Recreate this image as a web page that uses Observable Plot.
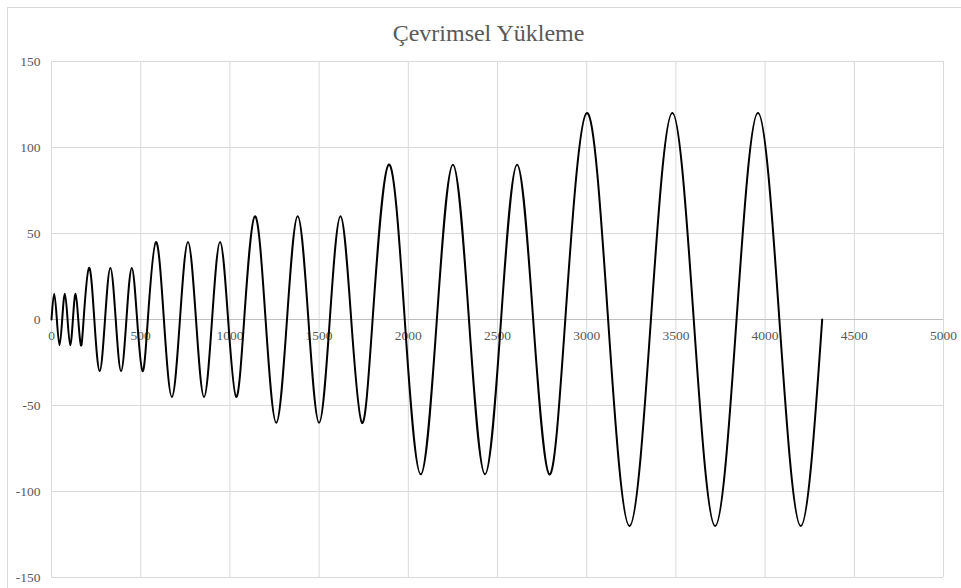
<!DOCTYPE html>
<html>
<head>
<meta charset="utf-8">
<script src="https://cdn.jsdelivr.net/npm/d3@7"></script>
<script src="https://cdn.jsdelivr.net/npm/@observablehq/plot@0.6"></script>
<style>
  html, body { margin: 0; padding: 0; background: #fff; overflow: hidden; }
  #wrap { position: relative; width: 961px; height: 588px; }
  #border { position: absolute; left: 7px; top: 7px; width: 1000px; height: 1000px; border: 1px solid #d9d9d9; box-sizing: border-box; }
  #chart { position: absolute; left: 0; top: 0; }
</style>
</head>
<body>
<div id="wrap"><div id="border"></div><div id="chart"></div></div>
<script>
const title = "Çevrimsel Yükleme";
// time (x) and load (y) at zero crossings and peaks
const time = [0,
  15, 30, 45, 60, 75, 90, 105, 120, 135, 150, 165, 180,
  210, 240, 270, 300, 330, 360, 390, 420, 450, 480, 510, 540,
  585, 630, 675, 720, 765, 810, 855, 900, 945, 990, 1035, 1080,
  1140, 1200, 1260, 1320, 1380, 1440, 1500, 1560, 1620, 1680, 1740, 1800,
  1890, 1980, 2070, 2160, 2250, 2340, 2430, 2520, 2610, 2700, 2790, 2880,
  3000, 3120, 3240, 3360, 3480, 3600, 3720, 3840, 3960, 4080, 4200, 4320];
const load = [0,
  15, 0, -15, 0, 15, 0, -15, 0, 15, 0, -15, 0,
  30, 0, -30, 0, 30, 0, -30, 0, 30, 0, -30, 0,
  45, 0, -45, 0, 45, 0, -45, 0, 45, 0, -45, 0,
  60, 0, -60, 0, 60, 0, -60, 0, 60, 0, -60, 0,
  90, 0, -90, 0, 90, 0, -90, 0, 90, 0, -90, 0,
  120, 0, -120, 0, 120, 0, -120, 0, 120, 0, -120, 0];
const xTicks = [0, 500, 1000, 1500, 2000, 2500, 3000, 3500, 4000, 4500, 5000];
const yTicks = [-150, -100, -50, 0, 50, 100, 150];

const data = time.map((t, i) => ({t, v: load[i]}));
const font = "'Liberation Serif', 'Times New Roman', serif";
const labelColor = "#595959";

const chart = Plot.plot({
  width: 961,
  height: 588,
  marginLeft: 51,
  marginRight: 18,
  marginTop: 61,
  marginBottom: 11,
  style: {fontFamily: font, fontSize: "13.5px", color: labelColor, background: "transparent"},
  x: {domain: [0, 5000], axis: null},
  y: {domain: [-150, 150], axis: null},
  marks: [
    Plot.ruleX(xTicks, {stroke: "#d9d9d9", strokeWidth: 1}),
    Plot.ruleY(yTicks, {stroke: "#d9d9d9", strokeWidth: 1}),
    Plot.ruleY([0], {stroke: "#bfbfbf", strokeWidth: 1}),
    Plot.text(yTicks, {x: 0, y: d => d, text: d => String(d), textAnchor: "end", dx: -11, fill: labelColor, fontFamily: font, fontSize: 13.5}),
    Plot.text(xTicks, {x: d => d, y: 0, text: d => String(d), dy: 16, fill: labelColor, fontFamily: font, fontSize: 13.5}),
    Plot.line(data, {x: "t", y: "v", curve: "natural", stroke: "#000", strokeWidth: 2}),
    Plot.text([title], {frameAnchor: "top", lineAnchor: "middle", dx: -9, dy: -28, text: d => d, fill: labelColor, fontFamily: font, fontSize: 24})
  ]
});
document.getElementById("chart").appendChild(chart);
</script>
</body>
</html>
